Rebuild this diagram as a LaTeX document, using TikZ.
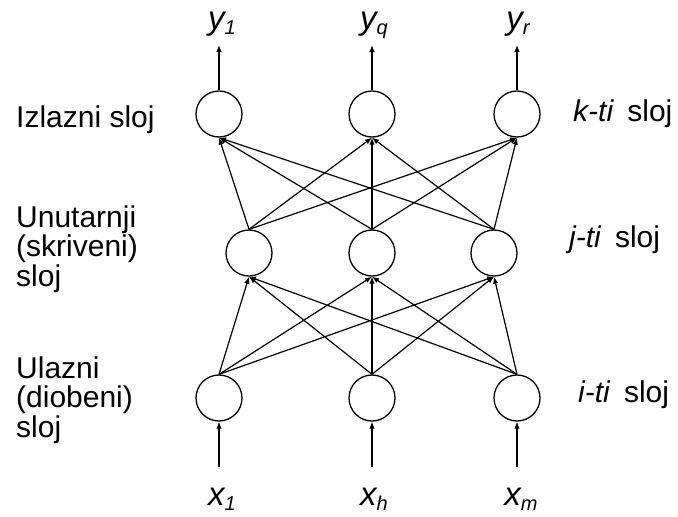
\documentclass[tikz,border=0pt]{standalone}
\usepackage{fontspec}
\setmainfont{Liberation Sans}
\usetikzlibrary{arrows.meta}
\newcommand{\lowsub}[1]{\raisebox{-5pt}{\fontsize{20}{21}\selectfont #1}}
\begin{document}
\begin{tikzpicture}[x=1pt,y=-1pt,
  neuron/.style={circle,draw,line width=1.3pt,minimum size=46pt,inner sep=0pt},
  conn/.style={line width=1.2pt,-{Latex[length=7pt,width=5.5pt]}},
  lbl/.style={anchor=base west,inner sep=0pt,font=\fontsize{30}{32}\selectfont},
  var/.style={anchor=base,inner sep=0pt,font=\fontsize{33}{35}\selectfont\itshape}]
\useasboundingbox (0,0) rectangle (678,517);
% neurons
\node[neuron] (o1) at (219,114) {};
\node[neuron] (o2) at (372,114) {};
\node[neuron] (o3) at (517,114) {};
\node[neuron] (h1) at (249,253) {};
\node[neuron] (h2) at (372,253) {};
\node[neuron] (h3) at (494,253) {};
\node[neuron] (i1) at (219,398) {};
\node[neuron] (i2) at (372,398) {};
\node[neuron] (i3) at (517,398) {};
% outputs
\coordinate (y1a) at (219,45);
\coordinate (y2a) at (372,45);
\coordinate (y3a) at (517,45);
\draw[conn] (o1.north) -- (y1a);
\draw[conn] (o2.north) -- (y2a);
\draw[conn] (o3.north) -- (y3a);
% inputs
\coordinate (x1a) at (219,467);
\coordinate (x2a) at (372,467);
\coordinate (x3a) at (517,467);
\draw[conn] (x1a) -- (i1.south);
\draw[conn] (x2a) -- (i2.south);
\draw[conn] (x3a) -- (i3.south);
% connections
\foreach \a in {h1,h2,h3}{\foreach \b in {o1,o2,o3}{\draw[conn] (\a.north) -- (\b.south);}}
\foreach \a in {i1,i2,i3}{\foreach \b in {h1,h2,h3}{\draw[conn] (\a.north) -- (\b.south);}}
% variable labels
\node[var] (ly1) at (222,29) {y\lowsub{1}};
\node[var] (ly2) at (374,29) {y\lowsub{q}};
\node[var] (ly3) at (518,29) {y\lowsub{r}};
\node[var] (lx1) at (222,505) {x\lowsub{1}};
\node[var] (lx2) at (374,505) {x\lowsub{h}};
\node[var] (lx3) at (521,505) {x\lowsub{m}};
% left labels
\node[lbl] (t1) at (16,127) {Izlazni sloj};
\node[lbl] (t2) at (16,227) {Unutarnji};
\node[lbl] (t3) at (16,256.5) {(skriveni)};
\node[lbl] (t4) at (16,286) {sloj};
\node[lbl] (t5) at (16,378) {Ulazni};
\node[lbl] (t6) at (16,407.5) {(diobeni)};
\node[lbl] (t7) at (16,437) {sloj};
% right labels
\node[lbl] (r1) at (573,121) {\textit{k-ti}\hspace{0.45em}sloj};
\node[lbl] (r2) at (569,247) {\textit{j-ti}\hspace{0.45em}sloj};
\node[lbl] (r3) at (578,402) {\textit{i-ti}\hspace{0.45em}sloj};
\end{tikzpicture}
\end{document}
